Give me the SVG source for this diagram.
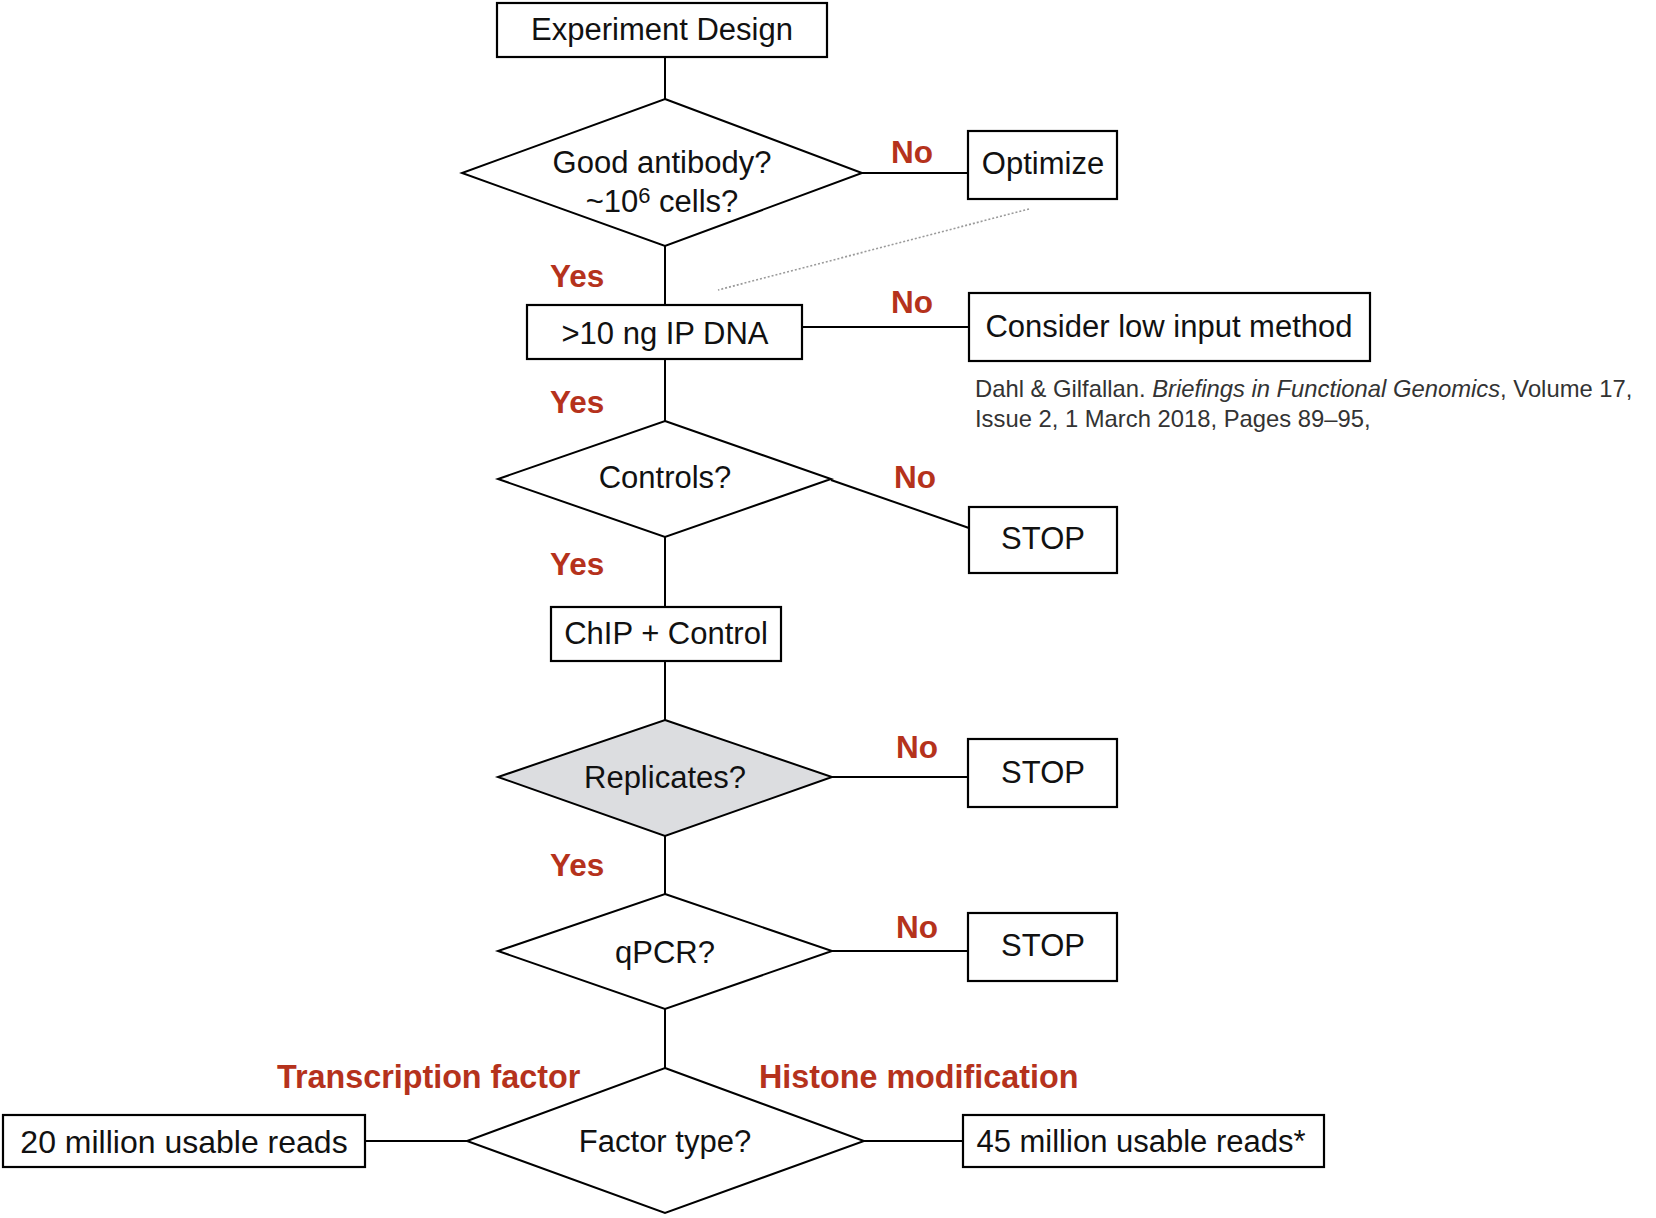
<svg xmlns="http://www.w3.org/2000/svg" width="1656" height="1218" viewBox="0 0 1656 1218">
  <style>
    .box { fill: #ffffff; stroke: #000000; stroke-width: 2.2; }
    .dia { fill: #ffffff; stroke: #000000; stroke-width: 2; stroke-linejoin: miter; }
    .dia.grey { fill: #dcdde0; }
    .link { stroke: #000000; stroke-width: 2; fill: none; }
    .dots { stroke: #9a9a9a; stroke-width: 1.6; stroke-dasharray: 2 2; fill: none; }
    .txt { font-family: "Liberation Sans", Arial, sans-serif; font-size: 31px; fill: #111111; text-anchor: middle; }
    .big { font-size: 32px; }
    .lbl { font-family: "Liberation Sans", Arial, sans-serif; font-size: 31.5px; font-weight: bold; fill: #b5321c; }
    .lbl.wide { font-size: 32.3px; }
    .cite { font-family: "Liberation Sans", Arial, sans-serif; font-size: 23.8px; fill: #333333; }
  </style>
  <rect width="1656" height="1218" fill="#ffffff"/>

  <!-- connectors -->
  <g id="connectors">
    <line class="link" x1="665" y1="57" x2="665" y2="99"/>
    <line class="link" x1="862" y1="173" x2="968" y2="173"/>
    <line class="link" x1="665" y1="246" x2="665" y2="305"/>
    <line class="dots" x1="1029" y1="209" x2="718" y2="290"/>
    <line class="link" x1="802" y1="327" x2="969" y2="327"/>
    <line class="link" x1="665" y1="359" x2="665" y2="421"/>
    <line class="link" x1="831" y1="480" x2="969" y2="528"/>
    <line class="link" x1="665" y1="537" x2="665" y2="607"/>
    <line class="link" x1="665" y1="661" x2="665" y2="720"/>
    <line class="link" x1="832" y1="777" x2="968" y2="777"/>
    <line class="link" x1="665" y1="836" x2="665" y2="894"/>
    <line class="link" x1="832" y1="951" x2="968" y2="951"/>
    <line class="link" x1="665" y1="1009" x2="665" y2="1068"/>
    <line class="link" x1="365" y1="1141" x2="467" y2="1141"/>
    <line class="link" x1="864" y1="1141" x2="963" y2="1141"/>
  </g>

  <!-- branch labels -->
  <g id="labels">
    <text class="lbl" x="891" y="163">No</text>
    <text class="lbl" x="550" y="287">Yes</text>
    <text class="lbl" x="891" y="313">No</text>
    <text class="lbl" x="550" y="413">Yes</text>
    <text class="lbl" x="894" y="488">No</text>
    <text class="lbl" x="550" y="575">Yes</text>
    <text class="lbl" x="896" y="758">No</text>
    <text class="lbl" x="550" y="876">Yes</text>
    <text class="lbl" x="896" y="938">No</text>
    <text class="lbl wide" x="277" y="1088">Transcription factor</text>
    <text class="lbl wide" x="759" y="1088">Histone modification</text>
  </g>

  <g id="design">
    <rect class="box" x="497" y="3" width="330" height="54"/>
    <text class="txt" x="662" y="40">Experiment Design</text>
  </g>

  <g id="antibody">
    <polygon class="dia" points="665,99 862,173 665,246 462,173"/>
    <text class="txt" x="662" y="173">Good antibody?</text>
    <text class="txt" x="662" y="212">~10<tspan font-size="22" dy="-9">6</tspan><tspan dy="9"> cells?</tspan></text>
  </g>

  <g id="optimize">
    <rect class="box" x="968" y="131" width="149" height="68"/>
    <text class="txt" x="1043" y="174">Optimize</text>
  </g>

  <g id="ipdna">
    <rect class="box" x="527" y="305" width="275" height="54"/>
    <text class="txt" x="665" y="344">&gt;10 ng IP DNA</text>
  </g>

  <g id="lowinput">
    <rect class="box" x="969" y="293" width="401" height="68"/>
    <text class="txt" x="1169" y="337">Consider low input method</text>
  </g>

  <g id="citation">
    <text class="cite" x="975" y="397">Dahl &amp; Gilfallan. <tspan font-style="italic">Briefings in Functional Genomics</tspan>, Volume 17,</text>
    <text class="cite" x="975" y="427">Issue 2, 1 March 2018, Pages 89–95,</text>
  </g>

  <g id="controls">
    <polygon class="dia" points="665,421 831,479 665,537 498,479"/>
    <text class="txt" x="665" y="488">Controls?</text>
  </g>

  <g id="stop1">
    <rect class="box" x="969" y="507" width="148" height="66"/>
    <text class="txt" x="1043" y="549">STOP</text>
  </g>

  <g id="chip">
    <rect class="box" x="551" y="607" width="230" height="54"/>
    <text class="txt" x="666" y="644">ChIP + Control</text>
  </g>

  <g id="replicates">
    <polygon class="dia grey" points="665,720 832,777 665,836 498,777"/>
    <text class="txt" x="665" y="788">Replicates?</text>
  </g>

  <g id="stop2">
    <rect class="box" x="968" y="739" width="149" height="68"/>
    <text class="txt" x="1043" y="783">STOP</text>
  </g>

  <g id="qpcr">
    <polygon class="dia" points="665,894 832,951 665,1009 498,951"/>
    <text class="txt" x="665" y="963">qPCR?</text>
  </g>

  <g id="stop3">
    <rect class="box" x="968" y="913" width="149" height="68"/>
    <text class="txt" x="1043" y="956">STOP</text>
  </g>

  <g id="factor">
    <polygon class="dia" points="665,1068 864,1141 665,1213 467,1141"/>
    <text class="txt" x="665" y="1152">Factor type?</text>
  </g>

  <g id="tf-reads">
    <rect class="box" x="3" y="1115" width="362" height="52"/>
    <text class="txt big" x="184" y="1153">20 million usable reads</text>
  </g>

  <g id="histone-reads">
    <rect class="box" x="963" y="1115" width="361" height="52"/>
    <text class="txt" x="1141" y="1152" font-size="30.5">45 million usable reads*</text>
  </g>
</svg>
